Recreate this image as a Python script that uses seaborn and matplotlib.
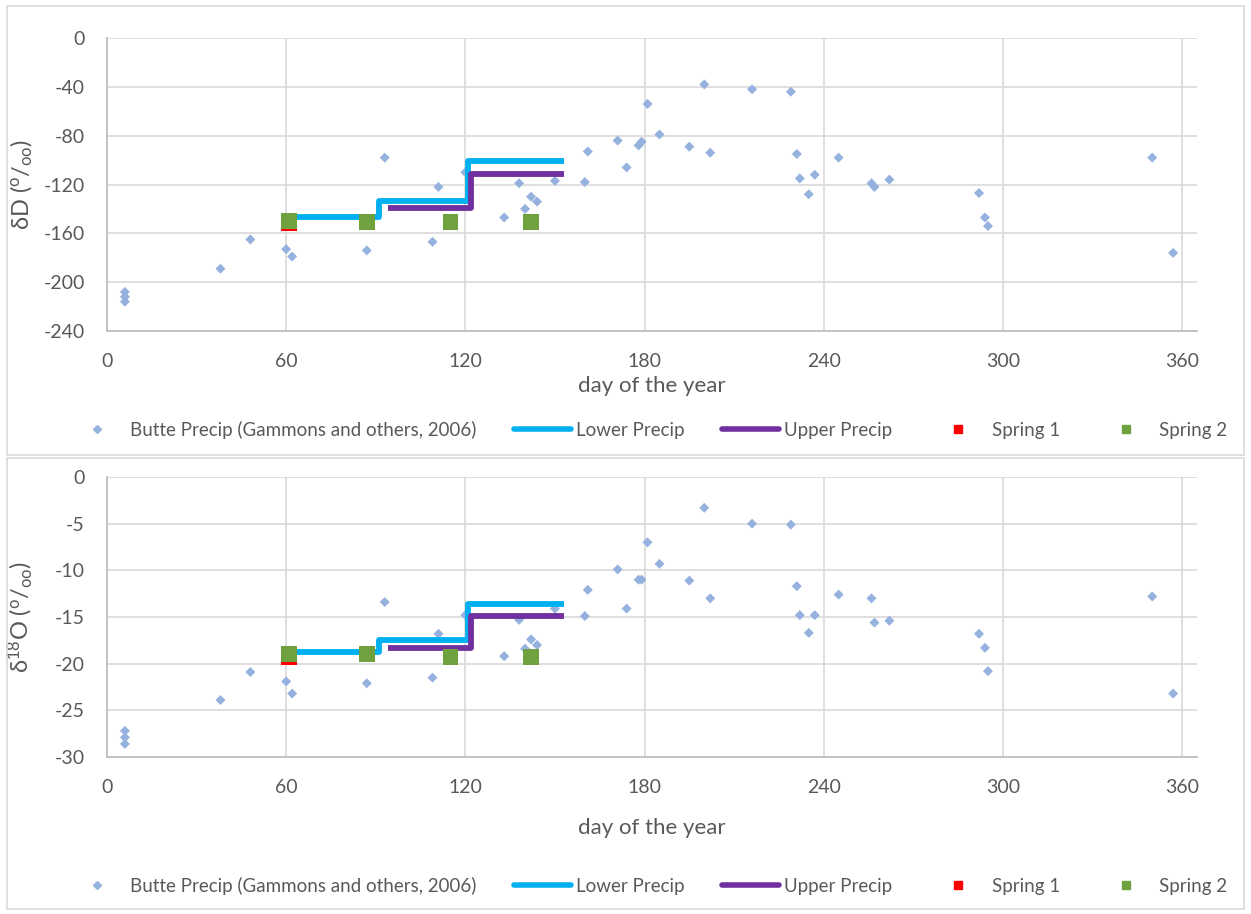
import matplotlib
matplotlib.use("Agg")
import matplotlib.pyplot as plt
import seaborn as sns
import pandas as pd
from matplotlib.lines import Line2D
from matplotlib.patches import Rectangle

# Butte precipitation samples (Gammons and others, 2006)
precip_day = [6, 6, 6, 38, 48, 60, 62, 87, 93, 109, 111, 120, 133, 138, 140, 142, 144,
              150, 160, 161, 171, 174, 178, 179, 181, 185, 195, 200, 202, 216, 229, 231,
              232, 235, 237, 245, 256, 257, 262, 292, 294, 295, 350, 357]
precip_dD = [-208, -212, -216, -189, -165, -173, -179, -174, -98, -167, -122, -110, -147,
             -119, -140, -130, -134, -117, -118, -93, -84, -106, -88, -85, -54, -79, -89,
             -38, -94, -42, -44, -95, -115, -128, -112, -98, -119, -122, -116, -127, -147,
             -154, -98, -176]
precip_d18O = [-27.2, -27.9, -28.6, -23.9, -20.9, -21.9, -23.2, -22.1, -13.4, -21.5, -16.8,
               -14.8, -19.2, -15.3, -18.4, -17.4, -18.0, -14.1, -14.9, -12.1, -9.9, -14.1,
               -11.0, -11.0, -7.0, -9.3, -11.1, -3.3, -13.0, -5.0, -5.1, -11.7, -14.8, -16.7,
               -14.8, -12.6, -13.0, -15.6, -15.4, -16.8, -18.3, -20.8, -12.8, -23.2]

# stepped monthly averages
lower_day = [61, 91, 121, 153]
lower_dD = [-146.5, -133.5, -100.5, -100.5]
lower_d18O = [-18.8, -17.5, -13.6, -13.6]
upper_day = [94, 122, 153]
upper_dD = [-139.5, -111.5, -111.5]
upper_d18O = [-18.3, -14.9, -14.9]

# springs
spring1_day = [61]
spring1_dD = [-152]
spring1_d18O = [-19.3]
spring2_day = [61, 87, 115, 142]
spring2_dD = [-150, -150.5, -150.5, -150.5]
spring2_d18O = [-19.0, -19.0, -19.3, -19.3]

C_PRECIP = "#95B1DE"
C_LOWER = "#00B0F0"
C_UPPER = "#7030A0"
C_S1 = "#FF0000"
C_S2 = "#6FA23E"
TXT = "#595959"

sns.set_style("white")
plt.rcParams["font.family"] = ["Lato", "DejaVu Sans"]
plt.rcParams["mathtext.fontset"] = "custom"
plt.rcParams["mathtext.rm"] = "Lato"
plt.rcParams["mathtext.it"] = "Lato"
plt.rcParams["axes.unicode_minus"] = False

W, H = 1251, 914
fig = plt.figure(figsize=(W / 100, H / 100), dpi=100)

# outer chart borders
for y0, y1 in [(6, 455), (458, 909)]:
    fig.patches.append(Rectangle((7 / W, 1 - y1 / H), (1244 - 7) / W, (y1 - y0) / H,
                                 transform=fig.transFigure, fill=False,
                                 edgecolor="#D9D9D9", lw=1.2))


def panel(rect, y, lower, upper, s1, s2, ylim, yticks, ylabel, labelpad):
    ax = fig.add_axes(rect)
    df = pd.DataFrame({"day": precip_day, "val": y})
    sns.scatterplot(data=df, x="day", y="val", ax=ax, marker="D", s=26,
                    color=C_PRECIP, edgecolor="none", zorder=3)
    ax.plot(lower_day, lower, drawstyle="steps-post", color=C_LOWER, lw=4.2,
            solid_capstyle="butt", zorder=4)
    ax.plot(upper_day, upper, drawstyle="steps-post", color=C_UPPER, lw=4.2,
            solid_capstyle="butt", zorder=4)
    sns.scatterplot(x=spring1_day, y=s1, ax=ax, marker="s", s=130, color=C_S1,
                    edgecolor="none", zorder=5)
    sns.scatterplot(x=spring2_day, y=s2, ax=ax, marker="s", s=130, color=C_S2,
                    edgecolor="none", zorder=6)
    ax.set_xlim(0, 365)
    ax.set_ylim(*ylim)
    ax.set_xticks(range(0, 361, 60))
    ax.set_yticks(yticks)
    ax.grid(True, color="#D9D9D9", lw=1.2)
    ax.set_axisbelow(True)
    for s in ["top", "right"]:
        ax.spines[s].set_visible(False)
    for s in ["left", "bottom"]:
        ax.spines[s].set_color("#BFBFBF")
        ax.spines[s].set_linewidth(1.3)
    ax.tick_params(length=0, pad=16, labelsize=14, labelcolor=TXT)
    ax.set_xlabel("day of the year", fontsize=16, color=TXT, labelpad=labelpad)
    ax.set_ylabel(ylabel, fontsize=17, color=TXT)
    ax.yaxis.set_label_coords(-0.066, 0.5)
    return ax


ax1 = panel([107 / W, 1 - 331 / H, 1090 / W, 293 / H], precip_dD, lower_dD, upper_dD,
            spring1_dD, spring2_dD, (-240, 0), range(-240, 1, 40),
            r"δD ($^{\mathrm{o}}/_{\mathrm{oo}}$)", 4)
ax2 = panel([107 / W, 1 - 757 / H, 1090 / W, 280 / H], precip_d18O, lower_d18O, upper_d18O,
            spring1_d18O, spring2_d18O, (-30, 0), range(-30, 1, 5),
            r"δ$^{18}$O ($^{\mathrm{o}}/_{\mathrm{oo}}$)", 16)

handles = [
    Line2D([], [], ls="none", marker="D", ms=4, color=C_PRECIP),
    Line2D([], [], color=C_LOWER, lw=4),
    Line2D([], [], color=C_UPPER, lw=4),
    Line2D([], [], ls="none", marker="s", ms=6, color=C_S1),
    Line2D([], [], ls="none", marker="s", ms=6, color=C_S2),
]
labels = ["Butte Precip (Gammons and others, 2006)", "Lower Precip", "Upper Precip",
          "Spring 1", "Spring 2"]
for yc in [430, 886]:
    leg = fig.legend(handles, labels, loc="center", bbox_to_anchor=(648 / W, 1 - yc / H),
                     ncol=5, frameon=False, fontsize=13.5, handlelength=3.0,
                     handletextpad=0.3, columnspacing=2.0)
    for t in leg.get_texts():
        t.set_color(TXT)

fig.savefig("out.png", dpi=100)
